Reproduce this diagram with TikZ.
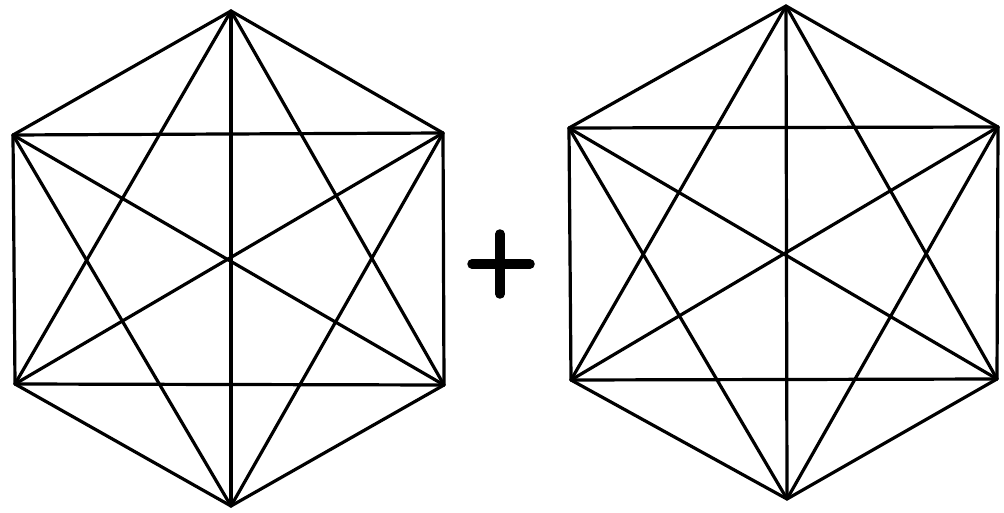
\documentclass[tikz,border=0pt]{standalone}
\begin{document}
\begin{tikzpicture}[x=1pt,y=-1pt,
  edge/.style={line width=3.2pt,line cap=round,line join=round},
  plus/.style={line width=9.5pt,line cap=round}]
\useasboundingbox (0,0) rectangle (1004,513);
% left graph
\coordinate (a1) at (231,11);
\coordinate (a2) at (443,133);
\coordinate (a3) at (444,385);
\coordinate (a4) at (231,506);
\coordinate (a5) at (15,384);
\coordinate (a6) at (13,135);
% right graph
\coordinate (b1) at (786,6);
\coordinate (b2) at (998,127);
\coordinate (b3) at (997,379);
\coordinate (b4) at (787,499);
\coordinate (b5) at (571,380);
\coordinate (b6) at (569,128);
\foreach \g in {a,b}{
  \foreach \i in {1,...,5}{
    \pgfmathtruncatemacro{\s}{\i+1}
    \foreach \j in {\s,...,6}{
      \draw[edge] (\g\i) -- (\g\j);
    }
  }
}
% plus sign
\coordinate (pt) at (500,234);
\coordinate (pb) at (500,294);
\coordinate (pl) at (472,264);
\coordinate (pr) at (530,264);
\draw[plus] (pt) -- (pb);
\draw[plus] (pl) -- (pr);
\end{tikzpicture}
\end{document}
